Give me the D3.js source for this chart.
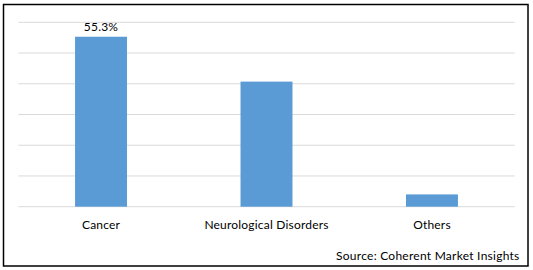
<!DOCTYPE html>
<html>
<head>
<meta charset="utf-8">
<script src="https://cdn.jsdelivr.net/npm/d3@7"></script>
<style>
html,body{margin:0;padding:0;background:#fff;}
svg{display:block;}
text{font-family:Lato,"Open Sans",sans-serif;fill:#000;}
</style>
</head>
<body>
<svg id="chart" width="533" height="270"></svg>
<script>
const categories = ["Cancer", "Neurological Disorders", "Others"];
const values = [55.3, 40.7, 4.0];
const valueLabels = ["55.3%", "", ""];
const yTicks = [0, 10, 20, 30, 40, 50, 60];
const sourceText = "Source: Coherent Market Insights";

const svg = d3.select("#chart");
const plot = {left: 18.3, right: 514.7, top: 22.3, bottom: 206.7};

svg.append("rect").attr("x", 3.5).attr("y", 4.5).attr("width", 524.5).attr("height", 261.5)
  .attr("fill", "#fff").attr("stroke", "#000").attr("stroke-width", 1.5);

const x = d3.scaleBand().domain(categories).range([plot.left, plot.right])
  .paddingInner(0.686).paddingOuter(0.343);
const y = d3.scaleLinear().domain([0, 60]).range([plot.bottom, plot.top]);

svg.append("g").selectAll("line").data(yTicks).join("line")
  .attr("x1", plot.left).attr("x2", plot.right)
  .attr("y1", d => y(d)).attr("y2", d => y(d))
  .attr("stroke", "#D9D9D9").attr("stroke-width", 1);

svg.append("g").selectAll("rect").data(values).join("rect")
  .attr("x", (d, i) => x(categories[i]))
  .attr("width", x.bandwidth())
  .attr("y", d => y(d))
  .attr("height", d => y(0) - y(d))
  .attr("fill", "#5B9BD5");

svg.append("g").selectAll("text").data(valueLabels).join("text")
  .attr("x", (d, i) => x(categories[i]) + x.bandwidth() / 2)
  .attr("y", (d, i) => y(values[i]) - 5.5)
  .attr("text-anchor", "middle").attr("font-size", 12).attr("fill", "#404040")
  .attr("letter-spacing", 0.2)
  .text(d => d);

const xAxis = d3.axisBottom(x).tickSize(0).tickPadding(0);
const gx = svg.append("g").attr("transform", `translate(0,${plot.bottom})`).call(xAxis);
gx.select(".domain").remove();
gx.selectAll("text").attr("font-size", 12).attr("dy", null).attr("y", 22)
  .attr("letter-spacing", 0.2)
  .style("font-family", "Lato, 'Open Sans', sans-serif").attr("fill", "#000");

svg.append("text").attr("x", 519.5).attr("y", 260).attr("text-anchor", "end")
  .attr("font-size", 12).attr("letter-spacing", 0.25).text(sourceText);
</script>
</body>
</html>
